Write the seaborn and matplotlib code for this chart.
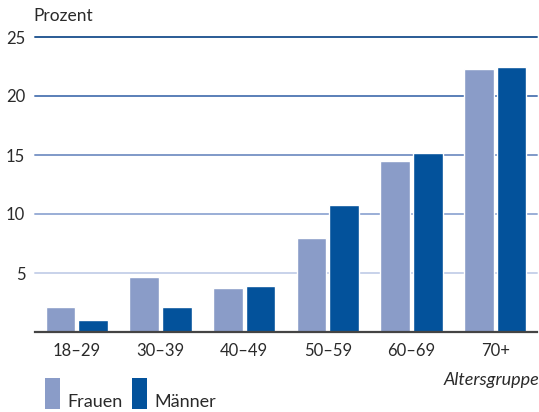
import matplotlib
matplotlib.use("Agg")
import matplotlib.pyplot as plt
import seaborn as sns
import pandas as pd
from matplotlib.patches import Rectangle

categories = ["18–29", "30–39", "40–49", "50–59", "60–69", "70+"]
frauen = [2.1, 4.7, 3.7, 8.0, 14.5, 22.3]
maenner = [1.0, 2.1, 3.9, 10.8, 15.2, 22.5]
series = ["Frauen", "Männer"]
yticks = [5, 10, 15, 20, 25]

df = pd.DataFrame({
    "Altersgruppe": categories * 2,
    "Wert": frauen + maenner,
    "Geschlecht": [series[0]] * len(categories) + [series[1]] * len(categories),
})

sns.set_style("white")
plt.rcParams["font.family"] = ["Lato", "DejaVu Sans"]

c_f = "#8a9cc8"
c_m = "#03529b"
text_c = "#2a2a2a"

fig = plt.figure(figsize=(5.39, 4.12), dpi=100)
ax = fig.add_axes([35 / 539, 1 - 332 / 412, 502 / 539, (332 - 37) / 412])

grid_colors = ["#c8d2ea", "#9aaed6", "#7f99c8", "#5a7fb8", "#2a5b95"]
for v, c in zip(yticks, grid_colors):
    ax.axhline(v, color=c, lw=1.4, zorder=0.5, clip_on=False)

sns.barplot(data=df, x="Altersgruppe", y="Wert", hue="Geschlecht",
            palette=[c_f, c_m], width=0.78, gap=0.09, saturation=1,
            legend=False, ax=ax, zorder=2)

ax.set_xlim(-0.5, 5.5)
ax.set_ylim(0, 25)
ax.set_yticks(yticks)
ax.set_yticklabels([str(t) for t in yticks], fontsize=12, color=text_c)
ax.tick_params(axis="y", length=0, pad=7)
ax.tick_params(axis="x", length=0, pad=8, labelsize=12, labelcolor=text_c)
ax.set_xlabel("")
ax.set_ylabel("")
for s in ["top", "right", "left"]:
    ax.spines[s].set_visible(False)
ax.spines["bottom"].set_color("#444444")
ax.spines["bottom"].set_linewidth(1.6)
ax.spines["bottom"].set_zorder(3)

fig.text(33 / 539, 1 - 16 / 412, "Prozent", fontsize=12.5, color=text_c,
         ha="left", va="center")
fig.text(539 / 539, 1 - 380 / 412, "Altersgruppe", fontsize=13, style="italic",
         color=text_c, ha="right", va="center")

# legend
for x0, col, lab in [(45, c_f, series[0]), (132, c_m, series[1])]:
    fig.add_artist(Rectangle((x0 / 539, 1 - 409 / 412), 15 / 539, 31 / 412,
                             transform=fig.transFigure, color=col, lw=0))
    fig.text((x0 + 22) / 539, 1 - 402 / 412, lab, fontsize=13, color=text_c,
             ha="left", va="center")

fig.savefig("out.png", dpi=100)
